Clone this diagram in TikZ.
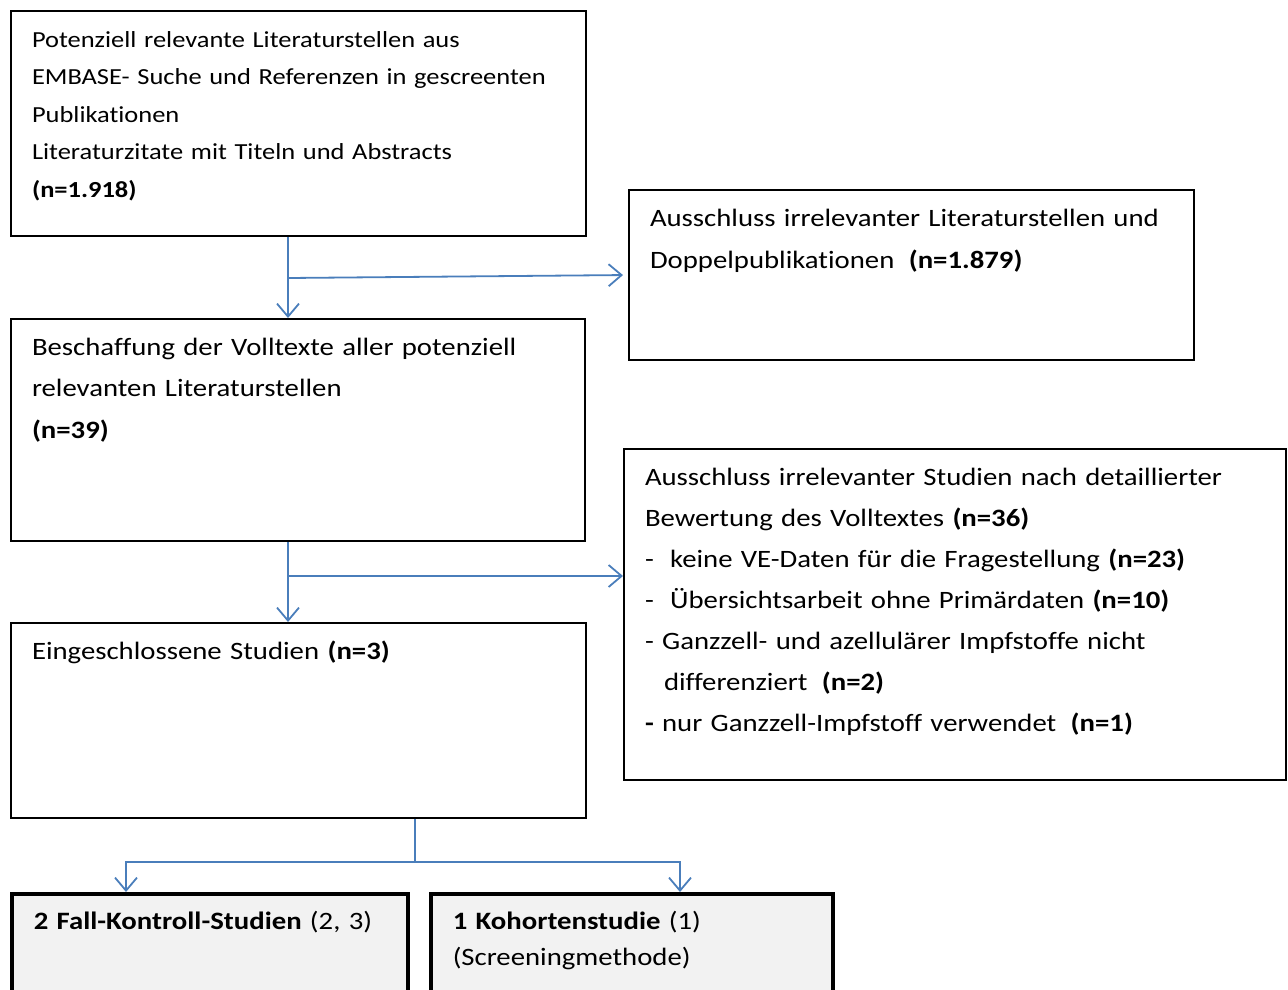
\documentclass[tikz,border=0pt]{standalone}
\usepackage{fontspec}
\setmainfont[FakeStretch=1.15, Ligatures=NoCommon]{Carlito}
\usetikzlibrary{arrows.meta}
\definecolor{flowblue}{RGB}{74,126,187}
\definecolor{studygray}{RGB}{242,242,242}

\begin{document}
\begin{tikzpicture}[
    x=1pt, y=-1pt,
    box/.style={rectangle, draw, line width=2pt, anchor=north west, align=left,
        inner xsep=21pt, inner ysep=19pt, text height=17pt,
        font=\fontsize{25}{41.5}\selectfont},
    smallbox/.style={box, font=\fontsize{23}{37.5}\selectfont},
    study/.style={box, fill=studygray, line width=3.5pt, font=\fontsize{25}{36}\selectfont},
    arrow/.style={-{Straight Barb[length=13pt,width=22pt]}, line width=1.8pt, draw=flowblue},
    line/.style={line width=1.8pt, draw=flowblue}
]
\useasboundingbox (0,0) rectangle (1288,989);

% Search and screening
\node[smallbox, text width=533pt, text depth=170pt] (search) at (10,10)
    {Potenziell relevante Literaturstellen aus\\
     EMBASE- Suche und Referenzen in gescreenten\\
     Publikationen\\
     Literaturzitate mit Titeln und Abstracts\\
     \textbf{(n=1.918)}};
\node[box, text width=523pt, text depth=115pt, font=\fontsize{25}{42}\selectfont] (excl1) at (628,189)
    {Ausschluss irrelevanter Literaturstellen und\\
     Doppelpublikationen\hspace{6pt} \textbf{(n=1.879)}};

% Full texts
\node[box, text width=532pt, text depth=167pt] (fulltext) at (10,318)
    {Beschaffung der Volltexte aller potenziell\\
     relevanten Literaturstellen\\
     \textbf{(n=39)}};
\node[box, text width=620pt, text depth=276pt, font=\fontsize{25}{41}\selectfont] (excl2) at (623,448)
    {Ausschluss irrelevanter Studien nach detaillierter\\
     Bewertung des Volltextes \textbf{(n=36)}\\
     -\hspace{8pt} keine VE-Daten für die Fragestellung \textbf{(n=23)}\\
     -\hspace{8pt} Übersichtsarbeit ohne Primärdaten \textbf{(n=10)}\\
     - Ganzzell- und azellulärer Impfstoffe nicht\\
     \hspace{19pt}differenziert\hspace{6pt} \textbf{(n=2)}\\
     \textbf{-} nur Ganzzell-Impfstoff verwendet\hspace{6pt} \textbf{(n=1)}};

% Included studies
\node[box, text width=533pt, text depth=140pt] (included) at (10,622)
    {Eingeschlossene Studien \textbf{(n=3)}};
\node[study, text width=352pt, text depth=100pt, inner xsep=22pt] (casecontrol) at (10,892)
    {\textbf{2 Fall-Kontroll-Studien} (2, 3)};
\node[study, text width=358pt, text depth=100pt, inner xsep=22pt] (cohort) at (429,892)
    {\textbf{1 Kohortenstudie} (1)\\
     (Screeningmethode)};

% Flow
\draw[arrow] ([xshift=278pt]search.south west) -- ([xshift=278pt]fulltext.north west);
\draw[arrow, shorten >=5pt] ([xshift=278pt]search.south west) ++(0,41) -- (excl1.west);
\draw[arrow] ([xshift=278pt]fulltext.south west) -- ([xshift=278pt]included.north west);
\draw[arrow] ([xshift=278pt]fulltext.south west) ++(0,34) coordinate (branch)
    -- (branch -| excl2.west);
\draw[line] ([xshift=405pt]included.south west) -- ++(0,43) coordinate (split);
\draw[arrow] (split) -| ([xshift=116pt]casecontrol.north west);
\draw[arrow] (split) -| ([xshift=251pt]cohort.north west);

\end{tikzpicture}
\end{document}
